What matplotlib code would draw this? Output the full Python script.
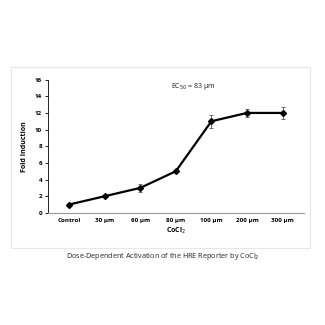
import matplotlib.pyplot as plt
from matplotlib.patches import Rectangle

categories = ["Control", "30 µm", "60 µm", "80 µm", "100 µm", "200 µm", "300 µm"]
fold = [1.0, 2.0, 3.0, 5.0, 11.0, 12.0, 12.0]
err = [0.1, 0.1, 0.5, 0.1, 0.8, 0.5, 0.7]

plt.rcParams['font.family'] = ['Open Sans', 'DejaVu Sans']

fig = plt.figure(figsize=(3.25, 3.25), dpi=100)
# light frame round the chart, like the spreadsheet chart area
fig.patches.append(Rectangle((0.034, 0.237), 0.92, 0.557, transform=fig.transFigure,
                             fill=False, edgecolor='#e6e6e6', linewidth=0.8))
ax = fig.add_axes([0.147, 0.345, 0.788, 0.41])

x = range(len(categories))
ax.errorbar(x, fold, yerr=err, color='black', linewidth=1.6, marker='D', markersize=3,
            ecolor='#555555', elinewidth=0.6, capsize=1.5, capthick=0.6)

ax.set_xlim(-0.6, 6.6)
ax.set_ylim(0, 16)
ax.set_yticks(range(0, 17, 2))
ax.set_xticks(list(x))
ax.set_xticklabels(categories, fontsize=4.5, fontweight='bold')
ax.tick_params(axis='y', labelsize=4.5, length=2, width=0.6, pad=2)
ax.tick_params(axis='x', length=0, pad=4)
for lab in ax.get_yticklabels():
    lab.set_fontweight('bold')

for s in ['top', 'right']:
    ax.spines[s].set_visible(False)
ax.spines['left'].set_linewidth(0.6)
ax.spines['bottom'].set_color('#999999')
ax.spines['bottom'].set_linewidth(0.8)

ax.set_ylabel("Fold Induction", fontsize=5, fontweight='bold', labelpad=5)
ax.set_xlabel("CoCl$_2$", fontsize=5, fontweight='bold', labelpad=2)
ax.text(0.57, 0.95, "EC$_{50}$ = 83 µm", transform=ax.transAxes, fontsize=5,
        ha='center', va='center', color='#222222')

fig.text(0.5, 0.211, "Dose-Dependent Activation of the HRE Reporter by CoCl$_2$",
         fontsize=5.2, ha='center', va='center', color='#222222')

fig.savefig("out.png", dpi=100)
